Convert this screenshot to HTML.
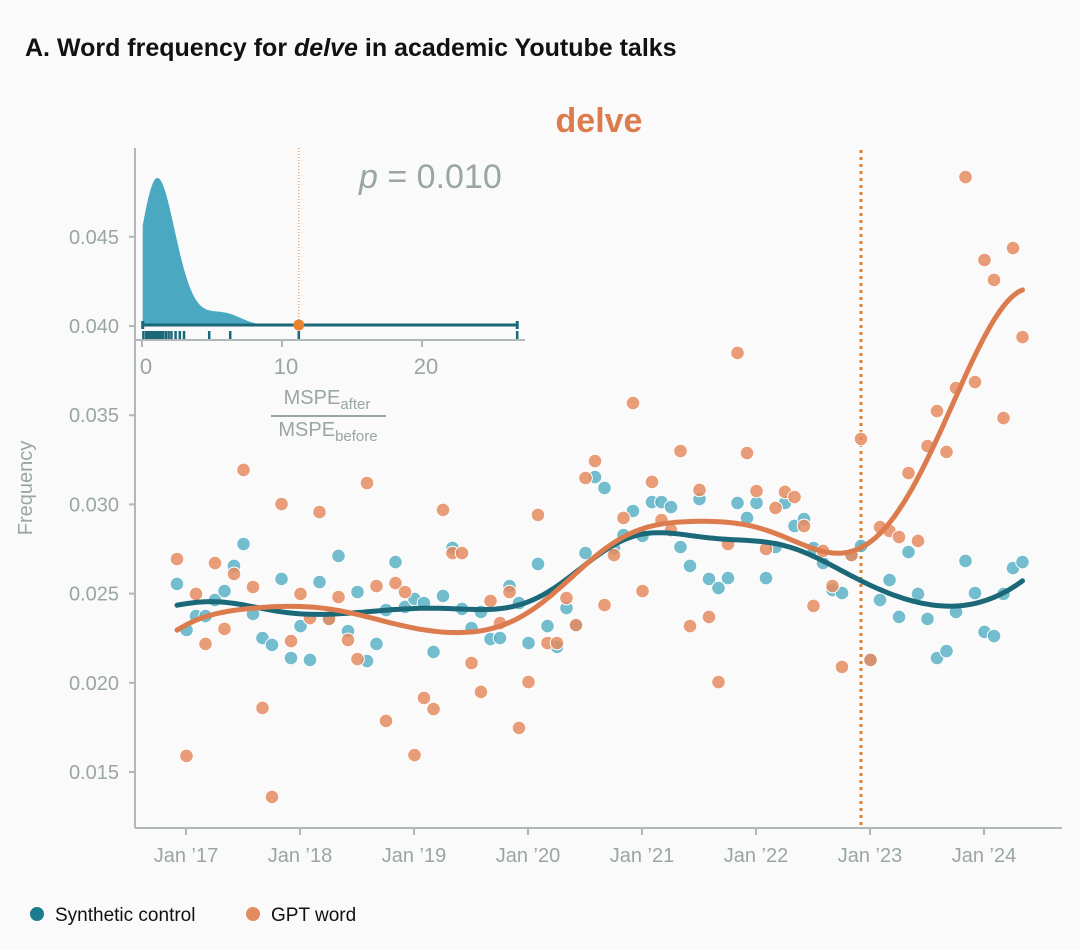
<!DOCTYPE html>
<html><head><meta charset="utf-8">
<style>
body{margin:0;background:#fafafa;}
svg{display:block;font-family:"Liberation Sans","DejaVu Sans",sans-serif;}
</style></head>
<body>
<svg id="chart" width="1080" height="950" viewBox="0 0 1080 950">
<rect width="1080" height="950" fill="#fafafa"/>
<text x="25" y="56" font-size="25" font-weight="bold" fill="#111">A. Word frequency for <tspan font-style="italic">delve</tspan> in academic Youtube talks</text>
<text x="599" y="132" font-size="34" font-weight="bold" fill="#dc7c4e" text-anchor="middle">delve</text>
<text x="32" y="488" font-size="20" fill="#9aa5a6" text-anchor="middle" transform="rotate(-90 32 488)">Frequency</text>
<g id="main"></g>
<g id="inset"></g>
<text x="359" y="188" font-size="34" fill="#9aa5a6"><tspan font-style="italic">p</tspan> = 0.010</text>
<g>
<circle cx="37" cy="914" r="7" fill="#1a7d8e"/>
<text x="55" y="921" font-size="19" fill="#111">Synthetic control</text>
<circle cx="253" cy="914" r="7" fill="#e48b5f"/>
<text x="271" y="921" font-size="19" fill="#111">GPT word</text>
</g>
</svg>
<script>
const xTickLabels = ["Jan \u201917","Jan \u201918","Jan \u201919","Jan \u201920","Jan \u201921","Jan \u201922","Jan \u201923","Jan \u201924"];
const xTickMonths = [1,13,25,37,49,61,73,85];
const yTicks = [0.015,0.020,0.025,0.030,0.035,0.040,0.045];
const yTickLabels = ["0.015","0.020","0.025","0.030","0.035","0.040","0.045"];
const interventionMonth = 72;
const synthetic = [0.02554,0.02296,0.02374,0.02374,0.02464,0.02514,0.02655,0.02778,0.02386,0.02251,
0.02212,0.02582,0.02139,0.02318,0.02128,0.02565,0.02358,0.02711,0.02290,0.02509,
0.02122,0.02218,0.02408,0.02677,0.02425,0.02470,0.02447,0.02173,0.02487,0.02756,
0.02414,0.02307,0.02397,0.02245,0.02251,0.02542,0.02447,0.02223,0.02666,0.02318,
0.02201,0.02419,0.02318,0.02727,0.03153,0.03092,0.02755,0.02828,0.02963,0.02823,
0.03013,0.03013,0.02985,0.02761,0.02655,0.03030,0.02582,0.02531,0.02587,0.03008,
0.02924,0.03008,0.02587,0.02761,0.03008,0.02879,0.02918,0.02755,0.02671,0.02520,
0.02503,0.02716,0.02767,0.02128,0.02464,0.02576,0.02369,0.02733,0.02498,0.02358,
0.02139,0.02178,0.02397,0.02683,0.02503,0.02285,0.02262,0.02498,0.02643,0.02677];
const gptWord = [0.02694,0.01590,0.02498,0.02218,0.02671,0.02302,0.02610,0.03193,0.02537,0.01859,
0.01360,0.03002,0.02234,0.02498,0.02363,0.02957,0.02358,0.02481,0.02240,0.02133,
0.03120,0.02542,0.01786,0.02559,0.02509,0.01595,0.01915,0.01853,0.02969,0.02727,
0.02727,0.02111,0.01949,0.02459,0.02335,0.02509,0.01747,0.02004,0.02941,0.02223,
0.02223,0.02475,0.02324,0.03148,0.03243,0.02436,0.02716,0.02924,0.03568,0.02514,
0.03126,0.02912,0.02856,0.03299,0.02318,0.03081,0.02369,0.02004,0.02778,0.03849,
0.03288,0.03075,0.02750,0.02980,0.03070,0.03041,0.02879,0.02431,0.02739,0.02542,
0.02089,0.02716,0.03367,0.02128,0.02873,0.02851,0.02817,0.03176,0.02795,0.03327,
0.03523,0.03294,0.03652,0.04835,0.03686,0.04370,0.04258,0.03484,0.04437,0.03938];
const placeboRatios = [0.1,0.3,0.4,0.5,0.6,0.7,0.8,0.85,0.9,1.0,1.05,1.1,1.2,1.3,1.4,1.5,1.7,1.9,2.1,2.4,2.7,3.0,4.8,6.3,26.8];
const observedRatio = 11.2;
const insetTicks = [0,10,20];

const NS="http://www.w3.org/2000/svg";
function mk(tag,attrs,parent){const e=document.createElementNS(NS,tag);for(const k in attrs)e.setAttribute(k,attrs[k]);parent.appendChild(e);return e;}
const xS = m => 177 + 9.5*m;
const yS = v => 326 + (0.040 - v)/0.005*89.2;
const main=document.getElementById('main');
const GRAY="#9aa5a6";

let ax=mk('line',{x1:135,y1:148,x2:135,y2:828,stroke:"#b0b8b8","stroke-width":2},main);


ax=mk('line',{x1:135,y1:828,x2:1062,y2:828,stroke:"#b0b8b8","stroke-width":2},main);


yTicks.forEach((v,i)=>{
  const y=yS(v);
  const t=mk('line',{x1:129,y1:y,x2:135,y2:y,stroke:"#b0b8b8","stroke-width":2},main);
  
  
  const l=mk('text',{x:119,y:y+7,"font-size":20,fill:GRAY,"text-anchor":"end"},main);
  l.textContent=yTickLabels[i];
  
  
});
xTickMonths.forEach((m,i)=>{
  const x=xS(m)-0.5;
  const t=mk('line',{x1:x,y1:828,x2:x,y2:835,stroke:"#b0b8b8","stroke-width":2},main);
  
  
  const l=mk('text',{x:x,y:862,"font-size":20,fill:GRAY,"text-anchor":"middle"},main);
  l.textContent=xTickLabels[i];
  
  
});
const il=mk('line',{x1:xS(interventionMonth),y1:150,x2:xS(interventionMonth),y2:828,stroke:"#e07f2e","stroke-width":3,"stroke-dasharray":"3 4"},main);



function dots(arr,color,name){
  arr.forEach((v,i)=>{
    const c=mk('circle',{cx:xS(i),cy:yS(v),r:6.8,fill:color,"fill-opacity":0.85,stroke:"#fff","stroke-width":1},main);
    
    
  });
}
dots(synthetic,"#5ab2c6","synthetic-point");
dots(gptWord,"#e48b5f","gpt-word-point");

function solveN(A,b){
  const n=b.length,M=A.map((r,i)=>r.concat([b[i]]));
  for(let i=0;i<n;i++){let p=i;for(let k=i+1;k<n;k++)if(Math.abs(M[k][i])>Math.abs(M[p][i]))p=k;[M[i],M[p]]=[M[p],M[i]];
    for(let k=i+1;k<n;k++){const f=M[k][i]/M[i][i];for(let j=i;j<=n;j++)M[k][j]-=f*M[i][j];}}
  const x=new Array(n).fill(0);for(let i=n-1;i>=0;i--){let s=M[i][n];for(let j=i+1;j<n;j++)s-=M[i][j]*x[j];x[i]=s/M[i][i];}return x;
}
function smooth(arr,h,deg){
  const pts=[],n=deg+1;
  for(let t=0;t<=arr.length-1;t+=0.5){
    const A=[...Array(n)].map(()=>new Array(n).fill(0)),b=new Array(n).fill(0);
    arr.forEach((v,i)=>{const w=Math.exp(-0.5*((i-t)/h)**2);const d=[];for(let k=0;k<n;k++)d.push((i-t)**k);
      for(let r=0;r<n;r++){b[r]+=w*d[r]*v;for(let c=0;c<n;c++)A[r][c]+=w*d[r]*d[c];}});
    const s=solveN(A,b);
    pts.push([xS(t),yS(s[0])]);
  }
  return "M"+pts.map(p=>p[0].toFixed(1)+","+p[1].toFixed(1)).join("L");
}
let ln=mk('path',{d:smooth(synthetic,5,1),fill:"none",stroke:"#1a6878","stroke-width":5,"stroke-linecap":"round"},main);


ln=mk('path',{d:smooth(gptWord,7.5,2),fill:"none",stroke:"#dc7c4e","stroke-width":5,"stroke-linecap":"round"},main);



const inset=document.getElementById('inset');
const ix=v=>142+14*v;
const base=325;
let e=mk('line',{x1:135,y1:340,x2:525,y2:340,stroke:"#b0b8b8","stroke-width":2},inset);


insetTicks.forEach(v=>{
  const t=mk('line',{x1:ix(v),y1:340,x2:ix(v),y2:347,stroke:"#b0b8b8","stroke-width":2},inset);
  
  
  const l=mk('text',{x:ix(v)+4,y:374,"font-size":22,fill:GRAY,"text-anchor":"middle"},inset);
  l.textContent=v;
  
  
});
const bw=1.0, dens=[];
const bulk=placeboRatios.filter(p=>p<10);
let dmax=0;
for(let v=0.05;v<=26.8;v+=0.1){
  let s=0;bulk.forEach(p=>{s+=Math.exp(-0.5*((v-p)/bw)**2);});
  dens.push([v,s]);if(s>dmax)dmax=s;
}
const dpath="M"+ix(0.05)+","+base+dens.map(d=>"L"+ix(d[0]).toFixed(1)+","+(base-d[1]/dmax*147).toFixed(1)).join("")+"L"+ix(26.8)+","+base+"Z";
e=mk('path',{d:dpath,fill:"#4aa8c0"},inset);


e=mk('line',{x1:ix(observedRatio),y1:148,x2:ix(observedRatio),y2:base,stroke:"#e07f2e","stroke-width":1,"stroke-dasharray":"1 2"},inset);


const maxR=Math.max(...placeboRatios);
e=mk('line',{x1:ix(0.05),y1:base,x2:ix(maxR),y2:base,stroke:"#1a6878","stroke-width":3},inset);


[0.05,maxR].forEach(v=>{
  const c=mk('line',{x1:ix(v),y1:base-4,x2:ix(v),y2:base+4,stroke:"#1a6878","stroke-width":3},inset);
  
  
});
placeboRatios.concat([observedRatio]).forEach(v=>{
  const r=mk('line',{x1:ix(v),y1:331,x2:ix(v),y2:339,stroke:"#1a6878","stroke-width":2.5},inset);
  
  
});
e=mk('circle',{cx:ix(observedRatio),cy:base,r:5.5,fill:"#e8822e"},inset);


let t=mk('text',{x:327,y:404,"font-size":20,fill:GRAY,"text-anchor":"middle"},inset);
t.innerHTML='MSPE<tspan font-size="15" dy="5">after</tspan>';


e=mk('line',{x1:271,y1:416,x2:386,y2:416,stroke:GRAY,"stroke-width":2},inset);


t=mk('text',{x:328,y:436,"font-size":20,fill:GRAY,"text-anchor":"middle"},inset);
t.innerHTML='MSPE<tspan font-size="15" dy="5">before</tspan>';


</script>
</body></html>
